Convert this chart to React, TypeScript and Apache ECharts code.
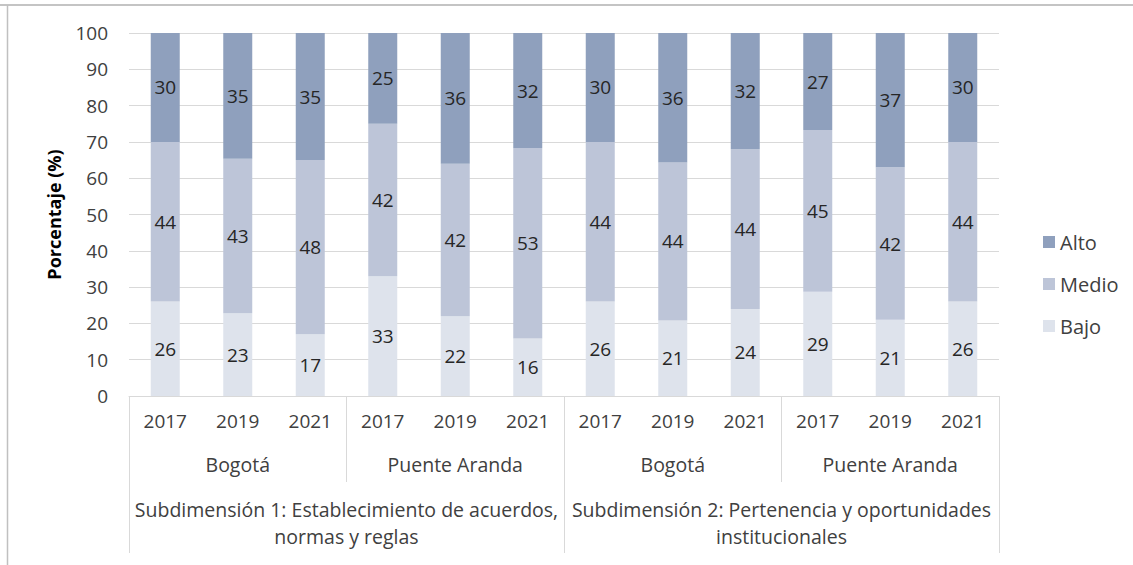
import React, { useEffect, useRef } from "react";
import * as echarts from "echarts";

const years = ["2017", "2019", "2021", "2017", "2019", "2021", "2017", "2019", "2021", "2017", "2019", "2021"];
const groups = ["Bogotá", "Puente Aranda", "Bogotá", "Puente Aranda"];
const subdims = [
  "Subdimensión 1: Establecimiento de acuerdos,\nnormas y reglas",
  "Subdimensión 2: Pertenencia y oportunidades\ninstitucionales",
];
const bajo = [26, 23, 17, 33, 22, 16, 26, 21, 24, 29, 21, 26];
const medio = [44, 43, 48, 42, 42, 53, 44, 44, 44, 45, 42, 44];
const alto = [30, 35, 35, 25, 36, 32, 30, 36, 32, 27, 37, 30];
const yTicks = [0, 10, 20, 30, 40, 50, 60, 70, 80, 90, 100];

const FONT = "Open Sans";
const FS = 19;
const GRID = "#d9d9d9";
const TXT = "#404040";

export default function App() {
  const ref = useRef<HTMLDivElement>(null);
  useEffect(() => {
    if (!ref.current) return;
    const chart = echarts.init(ref.current, undefined, { renderer: "svg" });
    const totals = bajo.map((b, i) => b + medio[i] + alto[i]);
    const norm = (arr: number[]) => arr.map((v, i) => (v / totals[i]) * 100);
    const mk = (name: string, raw: number[], color: string) => ({
      name,
      type: "bar",
      stack: "s",
      barWidth: "40%",
      xAxisIndex: 0,
      data: norm(raw),
      itemStyle: { color },
      label: {
        show: true,
        position: "inside",
        formatter: (p: any) => String(raw[p.dataIndex]),
        color: "#262626",
        fontFamily: FONT,
        fontSize: FS,
      },
    });
    chart.setOption({
      animation: false,
      textStyle: { fontFamily: FONT },
      grid: { left: 129, right: 134, top: 33, bottom: 169 },
      legend: {
        orient: "vertical",
        left: 1038,
        top: 227,
        data: ["Alto", "Medio", "Bajo"],
        itemWidth: 12,
        itemHeight: 12,
        itemGap: 22,
        icon: "rect",
        textStyle: { fontFamily: FONT, fontSize: 20, color: TXT },
      },
      yAxis: {
        type: "value",
        min: yTicks[0],
        max: yTicks[yTicks.length - 1],
        interval: 10,
        name: "Porcentaje (%)",
        nameLocation: "middle",
        nameGap: 66,
        nameTextStyle: { fontFamily: FONT, fontSize: 18, fontWeight: "bold", color: "#000" },
        axisLine: { show: false },
        axisTick: { show: false },
        axisLabel: { fontFamily: FONT, fontSize: FS, color: TXT, margin: 21 },
        splitLine: { lineStyle: { color: GRID, width: 1 } },
      },
      xAxis: [
        {
          type: "category",
          data: years,
          position: "bottom",
          axisLine: { show: true, lineStyle: { color: GRID } },
          axisTick: { show: false },
          axisLabel: { interval: 0, fontFamily: FONT, fontSize: FS, color: TXT, margin: 15 },
        },
        {
          type: "category",
          data: groups.map((_, i) => "g" + i),
          position: "bottom",
          axisLine: { show: false },
          axisTick: { show: true, length: 86, lineStyle: { color: GRID } },
          axisLabel: {
            interval: 0,
            fontFamily: FONT,
            fontSize: 19.5,
            color: TXT,
            margin: 58,
            formatter: (_v: string, i: number) => groups[i],
          },
        },
        {
          type: "category",
          data: subdims.map((_, i) => "s" + i),
          position: "bottom",
          axisLine: { show: false },
          axisTick: { show: true, length: 157, lineStyle: { color: GRID } },
          axisLabel: {
            interval: 0,
            fontFamily: FONT,
            fontSize: 19.5,
            color: TXT,
            margin: 100,
            lineHeight: 27,
            formatter: (_v: string, i: number) => subdims[i],
          },
        },
      ],
      series: [
        mk("Bajo", bajo, "#dee3ec"),
        mk("Medio", medio, "#bdc5d8"),
        mk("Alto", alto, "#8fa0bd"),
      ],
      graphic: [
        { type: "line", shape: { x1: 0, y1: 5, x2: 1133, y2: 5 }, style: { stroke: "#b0b0b0", lineWidth: 1.5 } },
        { type: "line", shape: { x1: 7.5, y1: 5, x2: 7.5, y2: 565 }, style: { stroke: "#c0c0c0", lineWidth: 1.5 } },
      ],
    });
    return () => chart.dispose();
  }, []);
  return (
    <div
      ref={ref}
      style={{ position: "fixed", left: 0, top: 0, width: 1133, height: 565, background: "#fff" }}
    />
  );
}
